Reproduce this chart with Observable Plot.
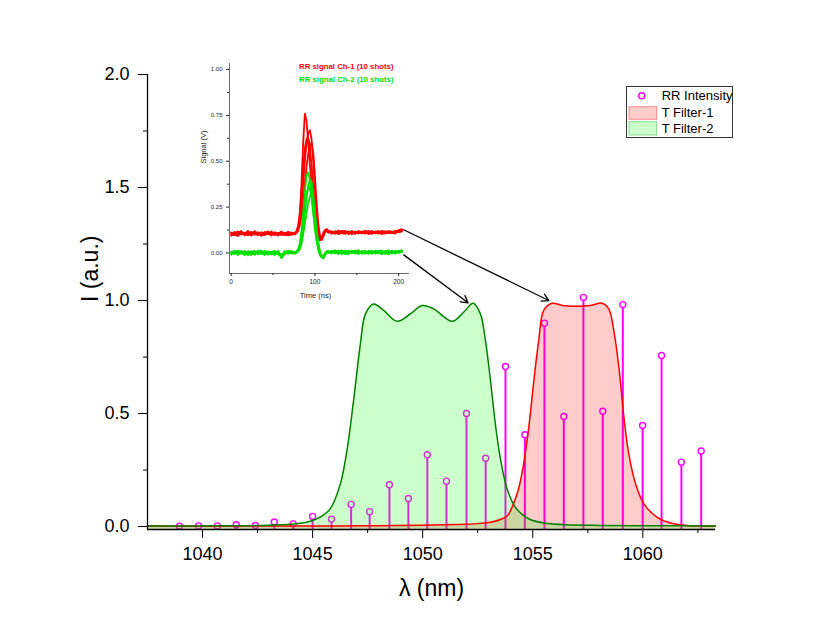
<!DOCTYPE html>
<html><head><meta charset="utf-8">
<script src="https://cdn.jsdelivr.net/npm/d3@7"></script>
<script src="https://cdn.jsdelivr.net/npm/@observablehq/plot@0.6"></script>
<style>
body{margin:0;background:#fff;}
#fig{position:relative;width:830px;height:636px;font-family:Arial,"Liberation Sans",sans-serif;}
#fig svg{position:absolute;}
</style></head><body><div id="fig"></div>
<script>
const FONT = 'Arial, "Liberation Sans", sans-serif';

// ---- Main chart data ----
const wavelengths = [1038.95,1039.82,1040.67,1041.53,1042.40,1043.26,1044.12,1045.00,1045.86,1046.75,1047.59,1048.49,1049.35,1050.21,1051.08,1051.99,1052.86,1053.76,1054.64,1055.53,1056.41,1057.30,1058.18,1059.09,1059.99,1060.85,1061.75,1062.65];
const rrIntensity = [0.002,0.003,0.003,0.008,0.005,0.020,0.012,0.045,0.033,0.098,0.066,0.185,0.124,0.318,0.201,0.500,0.302,0.708,0.406,0.900,0.487,1.014,0.510,0.982,0.447,0.757,0.285,0.334];

const filter1Nm = [1037.5,1043,1046,1048,1050,1051.5,1052.5,1053.08,1053.5,1053.84,1054.1,1054.35,1054.59,1054.82,1055.05,1055.27,1055.5,1055.88,1056.34,1056.86,1057.62,1058.15,1058.45,1058.68,1058.91,1059.14,1059.36,1059.67,1060.05,1060.65,1061.41,1062.02,1063.3];
const filter1T  = [0.002,0.002,0.003,0.004,0.006,0.009,0.013,0.019,0.030,0.047,0.095,0.165,0.28,0.44,0.646,0.823,0.956,0.988,0.978,0.975,0.978,0.988,0.963,0.867,0.705,0.484,0.322,0.189,0.100,0.041,0.012,0.005,0.003];

const filter2Nm = [1037.5,1040,1042,1043,1044,1044.6,1045.0,1045.4,1045.8,1046.26,1046.56,1046.86,1047.17,1047.4,1047.77,1048.23,1048.84,1049.44,1049.97,1050.5,1051.34,1051.86,1052.29,1052.62,1052.85,1053.08,1053.3,1053.53,1053.84,1054.21,1054.5,1054.9,1055.5,1056.5,1058,1060,1063.3];
const filter2T  = [0.003,0.003,0.004,0.006,0.010,0.017,0.027,0.045,0.078,0.189,0.336,0.557,0.808,0.941,0.985,0.956,0.908,0.941,0.978,0.963,0.908,0.948,0.988,0.941,0.823,0.646,0.454,0.300,0.165,0.085,0.055,0.030,0.016,0.008,0.005,0.004,0.003];

const xDomain = [1037.5, 1063.3];
const yDomain = [-0.013, 2.0];
const xMajor = [1040,1045,1050,1055,1060];
const xMinor = [1042.5,1047.5,1052.5,1057.5,1062.5];
const yMajor = [0,0.5,1.0,1.5,2.0];
const yMinor = [0.25,0.75,1.25,1.75];
const xTitle = "λ (nm)";
const yTitle = "I (a.u.)";

// arrows from inset traces to filter curves (main-chart coordinates)
const arrowFrom = [[1049.14,1.313],[1049.14,1.202]];
const arrowTo   = [[1055.73,1.000],[1052.06,0.990]];

// ---- Inset data ----
const insetTime = [0,4,8,12,16,20,24,28,32,36,40,44,48,52,56,60,64,68,72,
  76,78,80,82,84,86,88,90,92,94,96,98,100,102,104,106,108,110,112,114,116,
  120,124,128,132,136,140,144,148,152,156,160,164,168,172,176,180,184,188,192,196,200,204];
const ch1ShotA = [.10,.115,.095,.11,.105,.12,.10,.108,.097,.113,.104,.118,.1,.109,.095,.112,.103,.116,.106,
  .11,.12,.15,.22,.38,.6,.76,.72,.6,.48,.38,.28,.2,.13,.09,.07,.08,.1,.12,.13,.12,
  .115,.108,.122,.11,.104,.118,.112,.106,.12,.109,.114,.103,.117,.111,.108,.121,.113,.107,.118,.112,.125,.13];
const ch1ShotB = [.112,.098,.107,.12,.096,.104,.115,.1,.111,.094,.108,.102,.117,.099,.11,.101,.097,.108,.112,
  .10,.11,.13,.17,.26,.38,.5,.6,.65,.67,.62,.5,.36,.22,.12,.08,.07,.09,.12,.13,.12,
  .105,.119,.109,.115,.12,.103,.111,.117,.106,.113,.121,.108,.104,.116,.119,.11,.106,.12,.114,.118,.116,.122];
const ch1ShotC = [.094,.106,.118,.1,.11,.097,.105,.119,.102,.096,.115,.107,.095,.113,.104,.099,.11,.102,.098,
  .11,.11,.14,.2,.32,.46,.57,.62,.63,.58,.48,.36,.25,.16,.1,.075,.08,.11,.125,.12,.11,
  .118,.104,.112,.121,.107,.114,.102,.115,.109,.118,.105,.113,.12,.107,.112,.103,.117,.111,.108,.121,.112,.118];
const ch1ShotD = [.108,.1,.093,.114,.102,.111,.095,.107,.113,.1,.097,.111,.106,.098,.103,.117,.1,.096,.11,
  .105,.11,.12,.15,.2,.28,.38,.47,.54,.59,.6,.55,.42,.28,.16,.1,.075,.09,.11,.125,.12,
  .11,.114,.103,.108,.116,.109,.12,.104,.113,.107,.116,.119,.109,.114,.105,.112,.118,.115,.11,.106,.12,.126];
const ch2ShotA = [.0,.012,-.008,.005,-.012,.01,.002,-.006,.014,-.004,.007,-.01,.003,.011,-.007,-.02,.004,.009,-.003,
  .0,.01,.02,.05,.12,.22,.33,.42,.44,.4,.32,.23,.14,.07,.02,-.01,-.025,-.02,-.005,.005,.01,
  .005,.015,-.004,.01,.002,-.008,.012,.004,-.006,.011,.0,.008,-.005,.013,.003,-.007,.01,.001,.012,-.004,.008,.014];
const ch2ShotB = [-.01,.004,.013,-.005,.008,-.013,.006,.011,-.008,.002,-.011,.009,.001,-.006,.012,-.028,-.004,.006,.01,
  .005,.0,.01,.03,.07,.14,.22,.3,.36,.4,.39,.32,.22,.12,.05,.0,-.02,-.03,-.015,.0,.005,
  -.003,.009,.013,-.006,.007,.011,-.002,.01,.014,-.005,.008,.002,.012,-.004,.009,.013,-.006,.007,.003,.011,.0,.006];
const ch2ShotC = [.008,-.006,.003,.012,-.01,.004,-.012,.007,.001,.013,-.003,.005,-.009,.008,-.002,-.015,.011,-.005,.004,
  -.005,.005,.015,.04,.09,.17,.25,.32,.36,.35,.3,.22,.14,.07,.02,-.01,-.02,-.015,.0,.01,.0,
  .012,-.002,.006,.014,-.007,.004,.01,-.004,.008,.003,.013,-.006,.005,.009,-.003,.011,.004,-.008,.009,.002,.012,.01];
const ch2ShotD = [-.004,.009,-.011,.002,.011,-.003,.009,-.01,.005,-.007,.012,-.002,.008,-.012,.006,-.01,-.006,.013,.0,
  .0,.005,.01,.02,.05,.1,.16,.22,.27,.31,.33,.3,.22,.13,.06,.01,-.015,-.025,-.01,.005,.01,
  .002,.011,-.006,.008,.012,-.001,.006,.013,.0,.009,-.005,.011,.007,-.002,.012,.005,.008,.014,-.003,.007,.01,.003];
const insetXDomain = [-2, 213];
const insetYDomain = [-0.112, 1.033];
const insetXMajor = [0,100,200];
const insetXMinor = [50,150];
const insetYMajor = [0,0.25,0.5,0.75,1.0];
const insetYMinor = [0.125,0.375,0.625,0.875];
const insetLegend = ["RR signal Ch-1 (10 shots)", "RR signal Ch-2 (10 shots)"];

const legendLabels = ["RR Intensity", "T Filter-1", "T Filter-2"];

// ---- build tables ----
const rrRows = wavelengths.map((nm,i) => ({nm, value: rrIntensity[i]}));
const f1Rows = filter1Nm.map((nm,i) => ({nm, t: filter1T[i]}));
const f2Rows = filter2Nm.map((nm,i) => ({nm, t: filter2T[i]}));
const arrowRows = arrowFrom.map((p,i) => ({x1:p[0], y1:p[1], x2:arrowTo[i][0], y2:arrowTo[i][1]}));
function shotRows(shots){
  const rows = [];
  shots.forEach((s,k) => s.forEach((v,i) => rows.push({t: insetTime[i], v, shot: k})));
  return rows;
}
const ch1Rows = shotRows([ch1ShotA,ch1ShotB,ch1ShotC,ch1ShotD]);
const ch2Rows = shotRows([ch2ShotA,ch2ShotB,ch2ShotC,ch2ShotD]);

const fig = document.getElementById("fig");

const main = Plot.plot({
  width: 830, height: 636,
  marginLeft: 147, marginRight: 115, marginTop: 74, marginBottom: 107,
  style: {fontFamily: FONT, color: "black", background: "transparent", overflow: "visible"},
  x: {domain: xDomain},
  y: {domain: yDomain},
  marks: [
    Plot.ruleX(rrRows, {x: "nm", y1: yDomain[0], y2: "value", stroke: "#ff00ff", strokeWidth: 2}),
    Plot.dot(rrRows, {x: "nm", y: "value", r: 3, stroke: "#ff00ff", strokeWidth: 1.4, fill: "white"}),
    Plot.areaY(f1Rows, {x: "nm", y1: yDomain[0], y2: "t", fill: "#ff0000", fillOpacity: 0.2, curve: "catmull-rom"}),
    Plot.areaY(f2Rows, {x: "nm", y1: yDomain[0], y2: "t", fill: "#00ff00", fillOpacity: 0.2, curve: "catmull-rom"}),
    Plot.lineY(f1Rows, {x: "nm", y: "t", stroke: "#ff0000", strokeWidth: 1.5, curve: "catmull-rom"}),
    Plot.lineY(f2Rows, {x: "nm", y: "t", stroke: "#008000", strokeWidth: 1.5, curve: "catmull-rom"}),
    Plot.arrow(arrowRows, {x1: "x1", y1: "y1", x2: "x2", y2: "y2", stroke: "black", strokeWidth: 1.3, headLength: 9}),
    Plot.ruleX([xDomain[0]], {stroke: "black", strokeWidth: 1.3}),
    Plot.ruleY([yDomain[0]], {stroke: "black", strokeWidth: 1.3}),
    Plot.axisX({ticks: xMajor, tickSize: 9, tickPadding: 9, fontSize: 18, label: null, tickFormat: d => String(d)}),
    Plot.axisX({ticks: xMinor, tickSize: 4, label: null, tickFormat: () => ""}),
    Plot.axisY({ticks: yMajor, tickSize: 9, tickPadding: 9, fontSize: 18, label: null, tickFormat: d3.format(".1f")}),
    Plot.axisY({ticks: yMinor, tickSize: 4, label: null, tickFormat: () => ""}),
    Plot.text([yTitle], {text: d => d, frameAnchor: "left", rotate: -90, dx: -57, fontSize: 23}),
    Plot.text([xTitle], {text: d => d, frameAnchor: "bottom", dy: 66, fontSize: 23})
  ]
});
main.style.left = "0px"; main.style.top = "0px";
fig.appendChild(main);

const inset = Plot.plot({
  width: 240, height: 260,
  marginLeft: 49, marginRight: 11, marginTop: 13, marginBottom: 37,
  style: {fontFamily: FONT, color: "#222", background: "transparent", overflow: "visible"},
  x: {domain: insetXDomain},
  y: {domain: insetYDomain},
  marks: [
    Plot.lineY(ch1Rows, {x: "t", y: "v", z: "shot", stroke: "#ff0000", strokeWidth: 1.8}),
    Plot.lineY(ch2Rows, {x: "t", y: "v", z: "shot", stroke: "#00e000", strokeWidth: 1.8}),
    Plot.ruleX([insetXDomain[0]], {stroke: "#444", strokeWidth: 0.8}),
    Plot.ruleY([insetYDomain[0]], {stroke: "#444", strokeWidth: 0.8}),
    Plot.axisY({ticks: insetYMajor, tickSize: 3, tickPadding: 4, fontSize: 6, label: null, tickFormat: d3.format(".2f")}),
    Plot.axisY({ticks: insetYMinor, tickSize: 2, label: null, tickFormat: () => ""}),
    Plot.axisX({ticks: insetXMajor, tickSize: 3, tickPadding: 3, fontSize: 6.5, label: null, tickFormat: d => String(d)}),
    Plot.axisX({ticks: insetXMinor, tickSize: 2, label: null, tickFormat: () => ""}),
    Plot.text([insetLegend[0]], {text: d => d, frameAnchor: "top-right", textAnchor: "end", lineAnchor: "top", dx: -16, dy: 0, fill: "#ff0000", fontWeight: "bold", fontSize: 7.8}),
    Plot.text([insetLegend[1]], {text: d => d, frameAnchor: "top-right", textAnchor: "end", lineAnchor: "top", dx: -16, dy: 13, fill: "#00e000", fontWeight: "bold", fontSize: 7.8}),
    Plot.text(["Signal (V)"], {text: d => d, frameAnchor: "left", rotate: -90, dx: -26, dy: -5, fontSize: 7.5}),
    Plot.text(["Time (ns)"], {text: d => d, frameAnchor: "bottom", dx: -4, dy: 24, fontSize: 7.5})
  ]
});
inset.style.left = "180px"; inset.style.top = "50px";
fig.appendChild(inset);

// ---- legend ----
const lg = d3.select(fig).append("svg")
  .attr("width", 109).attr("height", 53)
  .style("left", "625px").style("top", "85px")
  .style("font-family", FONT).style("font-size", "13px");
lg.append("rect").attr("x", 1.5).attr("y", 1.5).attr("width", 106).attr("height", 51)
  .attr("fill", "white").attr("stroke", "#333").attr("stroke-width", 1);
lg.append("circle").attr("cx", 16.7).attr("cy", 10.7).attr("r", 3)
  .attr("fill", "white").attr("stroke", "#ff00ff").attr("stroke-width", 1.4);
lg.append("rect").attr("x", 4).attr("y", 21.7).attr("width", 27.7).attr("height", 12.6)
  .attr("fill", "#ffcccc").attr("stroke", "rgba(255,0,0,0.4)").attr("stroke-width", 1);
lg.append("rect").attr("x", 4).attr("y", 36.7).attr("width", 27.7).attr("height", 13.3)
  .attr("fill", "#ccffcc").attr("stroke", "rgba(0,170,0,0.4)").attr("stroke-width", 1);
const baselines = [15, 31.5, 48];
legendLabels.forEach((t,i) => {
  lg.append("text").attr("x", 36.7).attr("y", baselines[i]).attr("fill", "black").text(t);
});
</script></body></html>
